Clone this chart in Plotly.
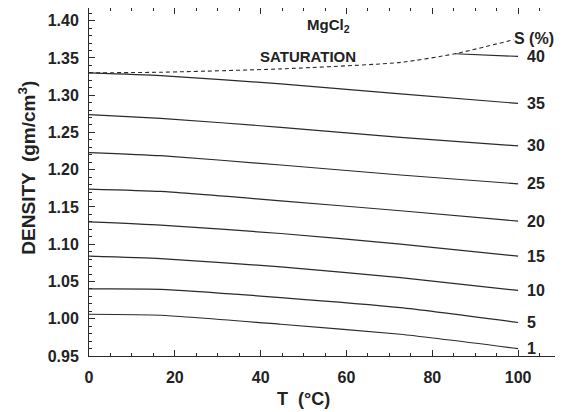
import plotly.graph_objects as go

# Temperatures (deg C) at which curves were read
T_pts = [0, 16.7, 44.7, 72.6, 100]
# Density (gm/cm3) for each concentration S (%)
S_labels = ["1", "5", "10", "15", "20", "25", "30", "35"]
S1 = [1.006, 1.0047, 0.9926, 0.9792, 0.960]
S5 = [1.040, 1.0395, 1.0284, 1.0149, 0.995]
S10 = [1.084, 1.0808, 1.0696, 1.0552, 1.038]
S15 = [1.130, 1.1257, 1.1144, 1.1001, 1.084]
S20 = [1.174, 1.1708, 1.1583, 1.1449, 1.131]
S25 = [1.223, 1.2188, 1.2063, 1.1929, 1.181]
S30 = [1.274, 1.2690, 1.2569, 1.2434, 1.232]
S35 = [1.330, 1.3263, 1.3152, 1.3017, 1.289]
# S = 40 % exists only at high temperature
T_40 = [85.3, 100]
S40 = [1.3556, 1.352]
# Saturation curve
T_sat = [0, 16.7, 44.7, 72.6, 85.3, 99]
D_sat = [1.330, 1.3308, 1.3353, 1.3440, 1.3556, 1.3745]

x_ticks = [0, 20, 40, 60, 80, 100]
y_ticks = [0.95, 1.00, 1.05, 1.10, 1.15, 1.20, 1.25, 1.30, 1.35, 1.40]

LINE = "#2a2a2a"
TXT = "#222"
FONT = "Liberation Sans, Arial, sans-serif"

fig = go.Figure()
series = [S1, S5, S10, S15, S20, S25, S30, S35]
for lab, ys in zip(S_labels, series):
    fig.add_trace(go.Scatter(x=T_pts, y=ys, mode="lines",
                             line=dict(color=LINE, width=1.2, shape="spline", smoothing=0.5),
                             hoverinfo="skip", showlegend=False))
fig.add_trace(go.Scatter(x=T_40, y=S40, mode="lines", line=dict(color=LINE, width=1.2), showlegend=False))
fig.add_trace(go.Scatter(x=T_sat, y=D_sat, mode="lines",
                         line=dict(color=LINE, width=1.1, dash="4px,3px", shape="spline", smoothing=0.6),
                         showlegend=False))

annots = []
for lab, ys in zip(S_labels + ["40"], series + [S40]):
    annots.append(dict(x=101.6, y=ys[-1], xref="x", yref="y", text="<b>" + lab + "</b>", showarrow=False,
                       xanchor="left", yanchor="middle", font=dict(size=16, color=TXT, family=FONT)))
annots += [
    dict(x=103.6, y=1.376, xref="x", yref="y", text="<b>S (%)</b>", showarrow=False,
         font=dict(size=16, color=TXT, family=FONT)),
    dict(x=55.8, y=1.393, xref="x", yref="y", text="<b>MgCl<sub>2</sub></b>", showarrow=False,
         font=dict(size=15, color=TXT, family=FONT)),
    dict(x=51, y=1.3517, xref="x", yref="y", text="<b>SATURATION</b>", showarrow=False,
         font=dict(size=15, color=TXT, family=FONT)),
    dict(x=50, y=-0.1236, xref="x", yref="paper", text="<b>T  (°C)</b>", showarrow=False,
         font=dict(size=18, color=TXT, family=FONT), yanchor="middle"),
    dict(x=-0.131, y=0.5417, xref="paper", yref="paper", text="<b>DENSITY  (gm/cm<sup>3</sup>)</b>",
         showarrow=False, textangle=-90, font=dict(size=19, color=TXT, family=FONT),
         xanchor="center", yanchor="middle"),
]

fig.update_layout(
    width=555, height=404,
    margin=dict(l=81, r=2, t=0, b=56),
    paper_bgcolor="white", plot_bgcolor="white",
    annotations=annots,
    font=dict(family=FONT, color=TXT),
)
fig.update_xaxes(range=[0, 110], tickvals=x_ticks, ticktext=["<b>%d</b>" % v for v in x_ticks],
                 ticks="inside", ticklen=6, tickcolor=LINE, showline=True, linecolor=LINE, linewidth=1,
                 mirror="allticks", showgrid=False, zeroline=False, automargin=False,
                 minor=dict(dtick=5, ticks="inside", ticklen=3, tickcolor=LINE, showgrid=False),
                 tickfont=dict(size=16, family=FONT, color=TXT), ticklabelstandoff=7)
fig.update_yaxes(range=[0.95, 1.417], tickvals=y_ticks, ticktext=["<b>%.2f</b>" % v for v in y_ticks],
                 ticks="inside", ticklen=6, tickcolor=LINE, showline=True, linecolor=LINE, linewidth=1,
                 mirror="allticks", showgrid=False, zeroline=False, automargin=False,
                 minor=dict(dtick=0.01, tick0=0.95, ticks="inside", ticklen=3, tickcolor=LINE, showgrid=False),
                 tickfont=dict(size=16, family=FONT, color=TXT), ticklabelstandoff=6)

fig.write_html("out.html")
